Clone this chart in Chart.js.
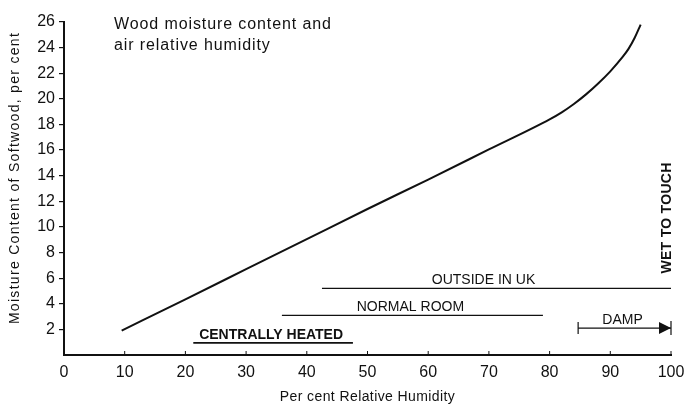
<!DOCTYPE html>
<html>
<head>
<meta charset="utf-8">
<script src="https://cdn.jsdelivr.net/npm/chart.js@4.4.1/dist/chart.umd.min.js"></script>
<style>
  html, body { margin: 0; padding: 0; background: #fff; }
  #wrap { width: 685px; height: 409px; position: relative; }
</style>
</head>
<body>
<div id="wrap"><canvas id="moistureChart"></canvas></div>
<script>
/* ======================
   DATA
====================== */
// relative humidity (%) and equilibrium moisture content of softwood (%)
const humidity = [9.5, 20, 30, 40, 50, 60, 70, 80, 82, 84, 86, 88, 90, 92, 93, 94, 95];
const moisture = [1.9, 4.35, 6.7, 9.05, 11.4, 13.7, 16.05, 18.4, 18.95, 19.6, 20.35, 21.2, 22.15, 23.25, 23.9, 24.75, 25.8];

// humidity ranges of typical conditions
const rangeNames = ["OUTSIDE IN UK", "NORMAL ROOM", "CENTRALLY HEATED", "DAMP"];
const rangeFrom = [42.5, 35.9, 21.3, 84.7];
const rangeTo = [100, 78.9, 47.6, 100];
const rangeLevel = [5.2, 3.1, 0.95, 2.1];

const xTicks = [0, 10, 20, 30, 40, 50, 60, 70, 80, 90, 100];
const yTicks = [2, 4, 6, 8, 10, 12, 14, 16, 18, 20, 22, 24, 26];

const titleLines = ["Wood moisture content and", "air relative humidity"];
const xTitle = "Per cent Relative Humidity";
const yTitle = "Moisture Content of Softwood, per cent";
const wetLabel = { text: "WET TO TOUCH", x: 99.3, y: 10.7 };

const FONT = "'Liberation Sans', Arial, Helvetica, sans-serif";
const INK = "#111";

/* ======================
   DATASETS
====================== */
const datasets = [{
    label: "Moisture content",
    data: humidity.map((h, i) => ({ x: h, y: moisture[i] })),
    borderColor: INK,
    borderWidth: 2,
    pointRadius: 0,
    cubicInterpolationMode: "monotone",
    fill: false
}];

rangeNames.forEach((name, i) => {
    datasets.push({
        label: name,
        data: [{ x: rangeFrom[i], y: rangeLevel[i] }, { x: rangeTo[i], y: rangeLevel[i] }],
        borderColor: INK,
        borderWidth: name === "CENTRALLY HEATED" ? 1.6 : 1.2,
        pointRadius: 0,
        fill: false
    });
});

/* ======================
   LABELS / ARROWS PLUGIN
====================== */
const notes = {
    id: "notes",
    afterDatasetsDraw(chart) {
        const { ctx, chartArea, scales: { x, y } } = chart;
        ctx.save();
        ctx.fillStyle = INK;
        ctx.strokeStyle = INK;

        // title text inside the plot
        ctx.font = "16px " + FONT;
        ctx.letterSpacing = "0.9px";
        ctx.textAlign = "left";
        ctx.textBaseline = "middle";
        titleLines.forEach((t, i) => ctx.fillText(t, chartArea.left + 50, chartArea.top + 3 + i * 21));

        // axis titles
        ctx.font = "14px " + FONT;
        ctx.letterSpacing = "0.4px";
        ctx.textAlign = "center";
        ctx.fillText(xTitle, (chartArea.left + chartArea.right) / 2, 397);
        ctx.save();
        ctx.translate(15, 178);
        ctx.rotate(-Math.PI / 2);
        ctx.letterSpacing = "1.3px";
        ctx.fillText(yTitle, 0, 0);
        ctx.restore();
        ctx.letterSpacing = "0px";

        // range labels
        rangeNames.forEach((name, i) => {
            const cx = x.getPixelForValue((rangeFrom[i] + rangeTo[i]) / 2);
            const py = y.getPixelForValue(rangeLevel[i]);
            ctx.font = (name === "CENTRALLY HEATED" ? "bold 14px " : "14px ") + FONT;
            ctx.textAlign = "center";
            ctx.textBaseline = "alphabetic";
            ctx.fillText(name, name === "OUTSIDE IN UK" ? cx - 13 : cx - 2, py - 4);
        });

        // DAMP arrow ends
        const d = rangeNames.indexOf("DAMP");
        const x0 = x.getPixelForValue(rangeFrom[d]);
        const x1 = x.getPixelForValue(rangeTo[d]);
        const yd = y.getPixelForValue(rangeLevel[d]);
        ctx.lineWidth = 1.2;
        ctx.beginPath();
        ctx.moveTo(x0, yd - 6); ctx.lineTo(x0, yd + 6);
        ctx.moveTo(x1, yd - 7); ctx.lineTo(x1, yd + 7);
        ctx.stroke();
        ctx.beginPath();
        ctx.moveTo(x1, yd);
        ctx.lineTo(x1 - 12, yd - 6);
        ctx.lineTo(x1 - 12, yd + 6);
        ctx.closePath();
        ctx.fill();

        // wet to touch, rotated
        ctx.translate(x.getPixelForValue(wetLabel.x), y.getPixelForValue(wetLabel.y));
        ctx.rotate(-Math.PI / 2);
        ctx.font = "bold 14px " + FONT;
        ctx.letterSpacing = "0.3px";
        ctx.textAlign = "center";
        ctx.textBaseline = "middle";
        ctx.fillText(wetLabel.text, 0, 0);
        ctx.restore();

        // small inner tick marks on the x axis
        ctx.save();
        ctx.strokeStyle = INK;
        ctx.lineWidth = 1;
        ctx.beginPath();
        xTicks.forEach(v => {
            const px = x.getPixelForValue(v);
            ctx.moveTo(px, chartArea.bottom);
            ctx.lineTo(px, chartArea.bottom - 4);
        });
        ctx.stroke();
        ctx.restore();
    }
};

/* ======================
   CHART
====================== */
const canvas = document.getElementById("moistureChart");

new Chart(canvas, {
    type: "line",
    data: { datasets },
    options: {
        responsive: true,
        maintainAspectRatio: false,
        animation: false,
        layout: { padding: { top: 22, right: 14, left: 0, bottom: 0 } },
        plugins: {
            legend: { display: false },
            tooltip: { enabled: false }
        },
        scales: {
            x: {
                type: "linear",
                min: 0,
                max: 100,
                afterFit: s => { s.height = 54; s.paddingRight = 0; s.paddingLeft = 0; },
                afterBuildTicks: s => { s.ticks = xTicks.map(v => ({ value: v })); },
                grid: { display: false, drawTicks: false },
                border: { display: true, color: INK, width: 2 },
                ticks: { color: INK, font: { family: FONT, size: 16 }, padding: 8, maxRotation: 0 }
            },
            y: {
                type: "linear",
                min: 0,
                max: 26,
                afterFit: s => { s.width = 64; },
                afterBuildTicks: s => { s.ticks = yTicks.map(v => ({ value: v })); },
                grid: { display: true, drawOnChartArea: false, drawTicks: true, tickLength: 5, color: INK, lineWidth: 1.2 },
                border: { display: true, color: INK, width: 2 },
                ticks: { color: INK, font: { family: FONT, size: 16 }, padding: 4 }
            }
        }
    },
    plugins: [notes]
});
</script>
</body>
</html>
